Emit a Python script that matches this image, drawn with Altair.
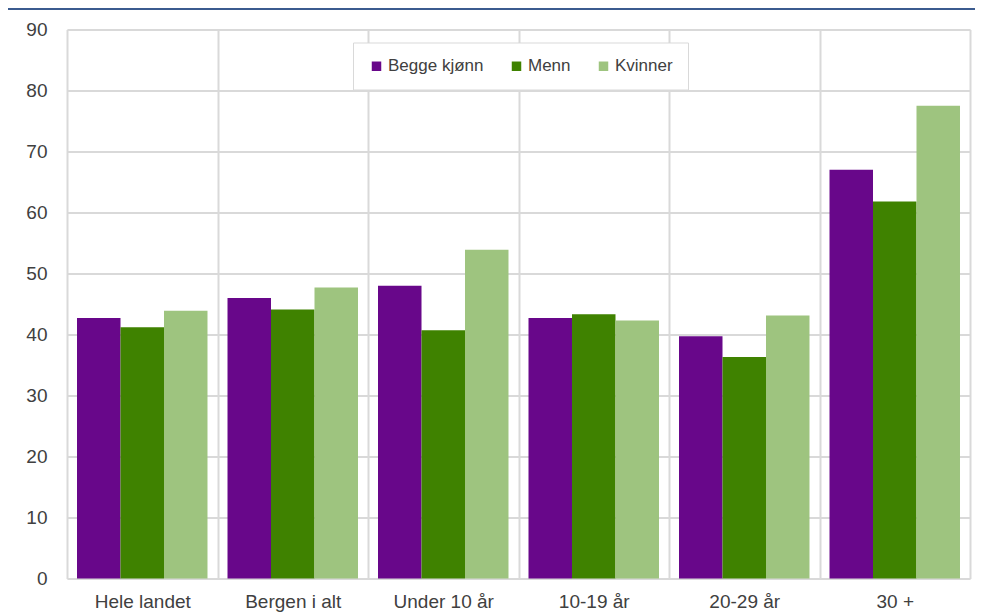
import altair as alt
import pandas as pd

categories = ["Hele landet", "Bergen i alt", "Under 10 år", "10-19 år", "20-29 år", "30 +"]
series = ["Begge kjønn", "Menn", "Kvinner"]
begge = [42.7, 46.0, 48.0, 42.7, 39.7, 67.0]
menn = [41.2, 44.1, 40.7, 43.3, 36.3, 61.8]
kvinner = [43.9, 47.7, 53.9, 42.3, 43.1, 77.5]
colors = ["#68078a", "#3f8200", "#9ec47f"]
y_ticks = [0, 10, 20, 30, 40, 50, 60, 70, 80, 90]

rows = []
for name, vals in zip(series, [begge, menn, kvinner]):
    for c, v in zip(categories, vals):
        rows.append({"Gruppe": c, "Serie": name, "Verdi": v})
df = pd.DataFrame(rows)

FONT = "Liberation Sans"
GRID = "#d9d9d9"
TXT = "#404040"

bars = alt.Chart(df).mark_bar().encode(
    x=alt.X("Gruppe:N", sort=categories, title=None,
            scale=alt.Scale(paddingInner=0, paddingOuter=0),
            axis=alt.Axis(labelAngle=0, tickBand="extent", grid=True, ticks=False,
                          domain=False, gridColor=GRID, gridWidth=2,
                          labelFont=FONT, labelFontSize=19, labelColor=TXT,
                          labelPadding=14)),
    xOffset=alt.XOffset("Serie:N", sort=series,
                        scale=alt.Scale(paddingInner=0, paddingOuter=0.23)),
    y=alt.Y("Verdi:Q", title=None,
            scale=alt.Scale(domain=[0, 90], nice=False),
            axis=alt.Axis(values=y_ticks, ticks=False, domain=False,
                          gridColor=GRID, gridWidth=2,
                          labelFont=FONT, labelFontSize=19, labelColor=TXT,
                          labelPadding=20)),
    color=alt.Color("Serie:N", sort=series,
                    scale=alt.Scale(domain=series, range=colors),
                    legend=alt.Legend(title=None, orient="none", legendX=286, legendY=13,
                                      direction="horizontal", fillColor="white",
                                      strokeColor=GRID, padding=15,
                                      symbolType="square", symbolSize=90,
                                      symbolStrokeWidth=0, labelFont=FONT,
                                      labelFontSize=17, labelColor=TXT,
                                      columnPadding=24, labelOffset=3)),
)

top_line = alt.Chart(pd.DataFrame({"a": [0]})).mark_rule(
    color="#3b5b8f", strokeWidth=2
).encode(x=alt.value(-59), x2=alt.value(912), y=alt.value(-20.5))

chart = alt.layer(bars, top_line).properties(
    width=903, height=549,
    autosize=alt.AutoSizeParams(type="none"),
    padding={"left": 59, "top": 21.5, "right": 5, "bottom": 35},
).configure_view(stroke=GRID, strokeWidth=2).configure(background="white")

chart.save("out.html", embed_options={"renderer": "svg", "actions": False})
